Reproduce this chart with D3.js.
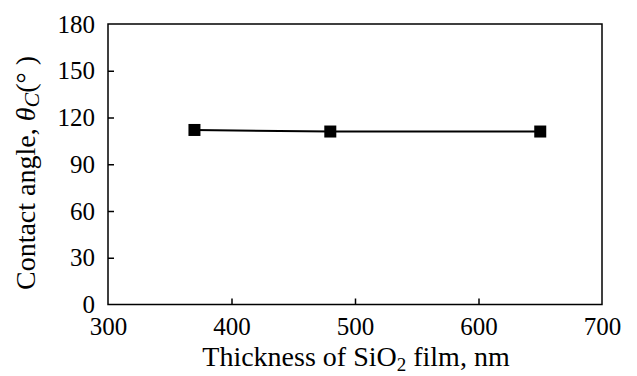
<!DOCTYPE html>
<html><head><meta charset="utf-8">
<script src="https://cdn.jsdelivr.net/npm/d3@7"></script>
<style>body{margin:0;background:#fff}svg{display:block}text{font-family:"Liberation Serif","Times New Roman",serif;fill:#000}</style>
</head><body>
<svg id="c" width="637" height="376"></svg>
<script>
const thickness = [370, 480, 650];
const contactAngle = [112, 111, 111];
const xTicks = [300, 400, 500, 600, 700];
const yTicks = [0, 30, 60, 90, 120, 150, 180];

const svg = d3.select("#c");
const m = {l:108, r:602, t:24, b:304.5};
const x = d3.scaleLinear().domain([300,700]).range([m.l, m.r]);
const y = d3.scaleLinear().domain([0,180]).range([m.b, m.t]);

svg.append("rect").attr("x", m.l).attr("y", m.t).attr("width", m.r-m.l).attr("height", m.b-m.t)
  .attr("fill","none").attr("stroke","#000").attr("stroke-width",1.5);

const xa = svg.append("g").attr("transform",`translate(0,${m.b})`)
  .call(d3.axisBottom(x).tickValues(xTicks).tickSize(-6).tickPadding(13).tickFormat(d3.format("d")));
const ya = svg.append("g").attr("transform",`translate(${m.l},0)`)
  .call(d3.axisLeft(y).tickValues(yTicks).tickSize(-6).tickPadding(13).tickFormat(d3.format("d")));
[xa, ya].forEach(a => {
  a.attr("font-size", 25).attr("font-family", "Liberation Serif");
  a.select(".domain").remove();
  a.selectAll(".tick line").attr("stroke","#000").attr("stroke-width",1.5);
  a.selectAll(".tick text").style("font-size","25px").style("font-family","'Liberation Serif'");
});
xa.selectAll(".tick line").filter(d => d===300||d===700).remove();
ya.selectAll(".tick line").filter(d => d===0||d===180).remove();

const pts = thickness.map((t,i)=>[t, contactAngle[i]]);
svg.append("path").datum(pts)
  .attr("d", d3.line().x(d=>x(d[0])).y(d=>y(d[1])))
  .attr("fill","none").attr("stroke","#000").attr("stroke-width",2);
svg.selectAll("rect.pt").data(pts).join("rect").attr("class","pt")
  .attr("x", d=>x(d[0])-6).attr("y", d=>y(d[1])-6).attr("width",12).attr("height",12).attr("fill","#000");

const xt = svg.append("text").attr("x", 356).attr("y", 366).attr("text-anchor","middle").style("font-size","28px");
xt.append("tspan").text("Thickness of SiO");
xt.append("tspan").style("font-size","19px").attr("dy",5).text("2");
xt.append("tspan").attr("dy",-5).text(" film, nm");

const yt = svg.append("text").attr("transform","translate(35,173) rotate(-90)").attr("text-anchor","middle").style("font-size","28px");
yt.append("tspan").text("Contact angle, ");
yt.append("tspan").attr("font-style","italic").text("θ");
yt.append("tspan").attr("font-style","italic").style("font-size","22px").attr("dy",4).text("C");
yt.append("tspan").attr("dy",-4).text("(° )");
</script>
</body></html>
